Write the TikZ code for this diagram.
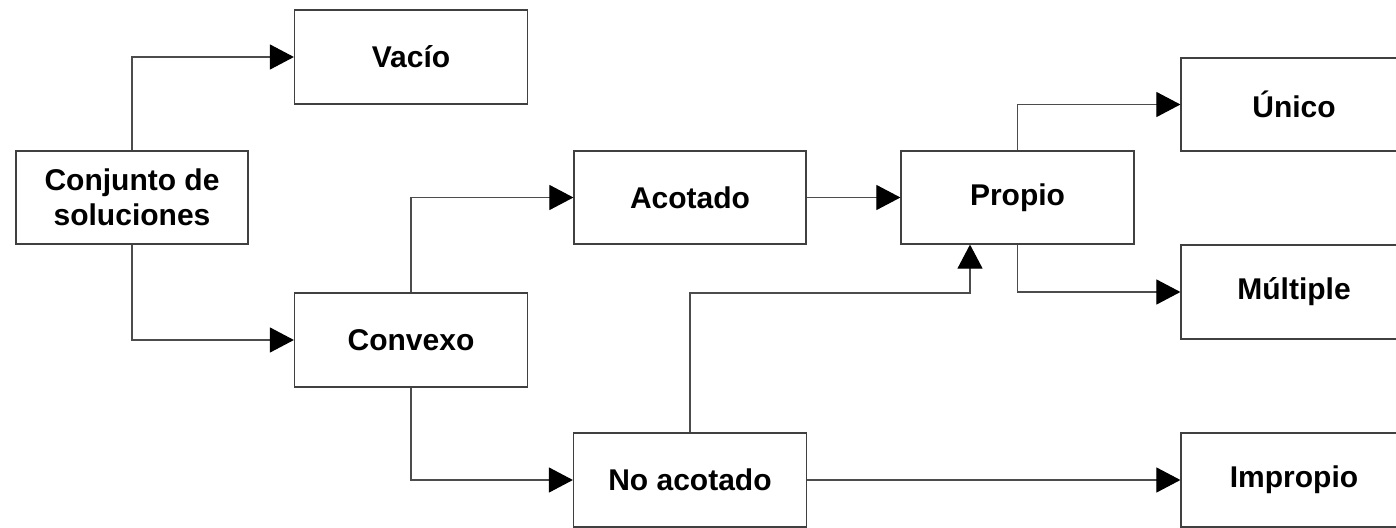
\documentclass[tikz,border=0pt]{standalone}
\usepackage{fontspec}
\setmainfont{Liberation Sans}
\usetikzlibrary{arrows.meta}
\begin{document}
\begin{tikzpicture}[x=1pt,y=-1pt,
  box/.style={draw=black!75,line width=1.2pt,fill=white,minimum width=#1,minimum height=94pt,inner sep=0pt,align=center,font=\fontsize{30}{35}\selectfont\bfseries},
  box/.default=233pt,
  conn/.style={draw=black!70,line width=1.1pt,-{Triangle[length=24pt,width=25pt,black]}}]
\useasboundingbox (0,0) rectangle (1396,527);
\node[box] (vacio) at (411,57) {Vacío};
\node[box,minimum height=93pt,minimum width=232pt] (conj) at (132,197.5) {Conjunto de\\soluciones};
\node[box] (convexo) at (411,340) {Convexo};
\node[box,minimum height=93pt,minimum width=232pt] (acotado) at (690,197.5) {Acotado};
\node[box] (noac) at (690,480) {No acotado};
\node[box,minimum height=93pt] (propio) at (1017.5,197.5) {Propio};
\node[box=226pt,minimum height=93pt] (unico) at (1294,104.5) {Único};
\node[box=226pt] (multiple) at (1294,292) {Múltiple};
\node[box=226pt] (impropio) at (1294,480) {Impropio};
\coordinate (pj) at (970,293);
\draw[conn] (conj.north) |- (vacio.west);
\draw[conn] (conj.south) |- (convexo.west);
\draw[conn] (convexo.north) |- (acotado.west);
\draw[conn] (convexo.south) |- (noac.west);
\draw[conn] (acotado.east) -- (propio.west);
\draw[conn] (propio.north) |- (unico.west);
\draw[conn] (propio.south) |- (multiple.west);
\draw[conn] (noac.north) |- (pj) -- (pj |- propio.south);
\draw[conn] (noac.east) -- (impropio.west);
\end{tikzpicture}
\end{document}
